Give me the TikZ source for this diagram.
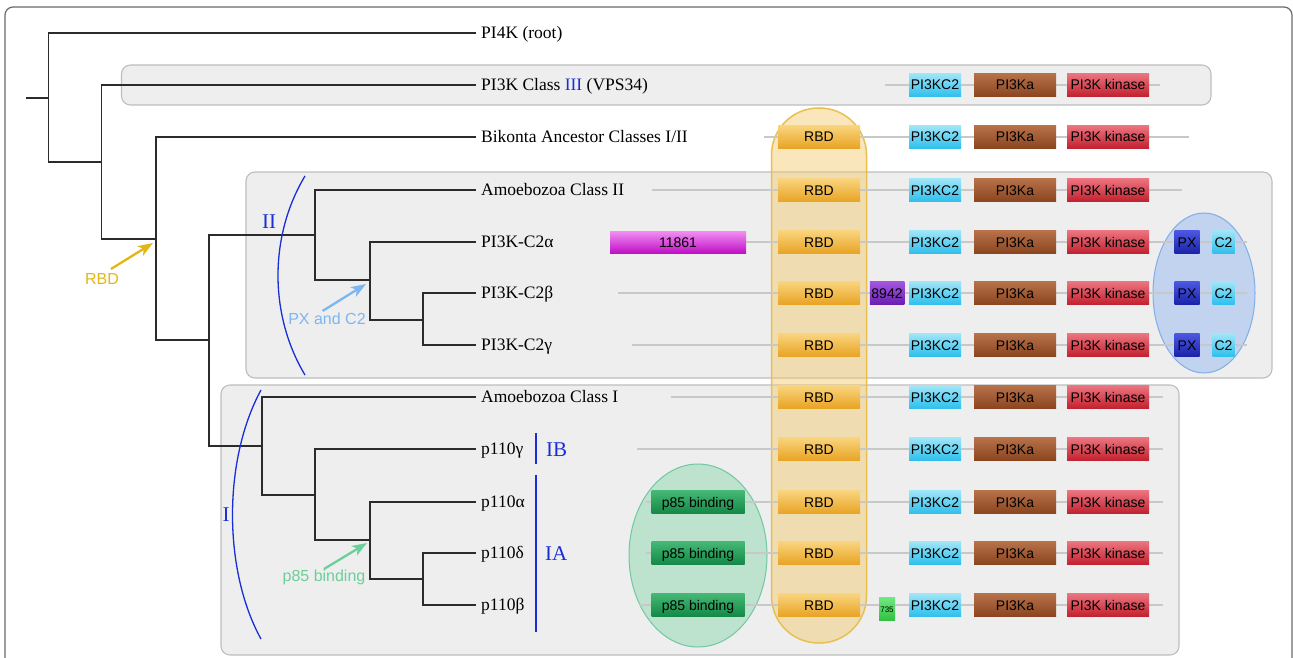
\documentclass[tikz,border=0pt]{standalone}
\usepackage{fontspec}
\setmainfont{Liberation Serif}
\setsansfont{Liberation Sans}
\usetikzlibrary{arrows.meta,shadings}
\definecolor{treeC}{HTML}{2B2B2B}
\definecolor{blueC}{HTML}{1A2ED8}
\definecolor{boxFill}{HTML}{EEEEEE}
\definecolor{boxLine}{HTML}{BEBEBE}
\definecolor{protC}{HTML}{C8C8C8}
\definecolor{frameC}{HTML}{6A6A6A}
\definecolor{cyanT}{HTML}{A0E6F8}\definecolor{cyanB}{HTML}{2EBFEC}
\definecolor{brownT}{HTML}{B8724A}\definecolor{brownB}{HTML}{8A4520}
\definecolor{redT}{HTML}{EC7580}\definecolor{redB}{HTML}{C2202E}
\definecolor{rbdT}{HTML}{F9D47E}\definecolor{rbdB}{HTML}{E8A424}
\definecolor{magT}{HTML}{F290F2}\definecolor{magB}{HTML}{C010C6}
\definecolor{purT}{HTML}{A456E2}\definecolor{purB}{HTML}{6A1EB0}
\definecolor{pxT}{HTML}{4C58E2}\definecolor{pxB}{HTML}{1A22A8}
\definecolor{pgT}{HTML}{44B874}\definecolor{pgB}{HTML}{148846}
\definecolor{gT}{HTML}{70E880}\definecolor{gB}{HTML}{30C040}
\definecolor{goldC}{HTML}{E2B714}
\definecolor{ltblueC}{HTML}{7DB6F0}
\definecolor{ltgreenC}{HTML}{6CCF9A}
\definecolor{capFill}{HTML}{F2C868}
\definecolor{capLine}{HTML}{E8C050}
\definecolor{ellBFill}{HTML}{AAC6EE}
\definecolor{ellBLine}{HTML}{7FAEE8}
\definecolor{ellGFill}{HTML}{A4DCBE}
\definecolor{ellGLine}{HTML}{70C8A0}
\begin{document}
\begin{tikzpicture}[x=1pt,y=-1pt,
  tree/.style={draw=treeC,line width=1.4pt},
  leaflab/.style={anchor=base west,inner sep=0pt,font=\fontsize{17.5}{20}\selectfont},
  graybox/.style={draw=boxLine,fill=boxFill,line width=1.1pt,rounded corners=9pt},
  prot/.style={draw=protC,line width=2pt},
  dom/.style={inner sep=0pt,minimum height=23pt,font=\sffamily\fontsize{14}{16}\selectfont,text height=10pt,text depth=0pt},
  cyanbox/.style={dom,top color=cyanT,bottom color=cyanB},
  brownbox/.style={dom,top color=brownT,bottom color=brownB},
  redbox/.style={dom,top color=redT,bottom color=redB},
  rbdbox/.style={dom,top color=rbdT,bottom color=rbdB},
  magbox/.style={dom,top color=magT,bottom color=magB},
  purbox/.style={dom,top color=purT,bottom color=purB},
  pxbox/.style={dom,top color=pxT,bottom color=pxB},
  p85box/.style={dom,top color=pgT,bottom color=pgB},
  smallgbox/.style={dom,top color=gT,bottom color=gB,font=\sffamily\fontsize{8}{9}\selectfont,text height=6pt},
  classlab/.style={inner sep=0pt,text=blueC,font=\fontsize{21}{24}\selectfont},
  bar/.style={draw=blueC,line width=2.4pt},
  arc/.style={draw=blueC,line width=1.3pt},
  anno/.style={inner sep=0pt,font=\sffamily\fontsize{16}{18}\selectfont},
  annoarrow/.style={line width=2.3pt,-{Stealth[length=15pt,width=11pt,inset=4pt]}}
]
\useasboundingbox (0,0) rectangle (1293,658);
\clip (0,0) rectangle (1293,658);
\fill[white] (0,0) rectangle (1293,658);
% outer frame
\draw[frameC,line width=1.2pt,rounded corners=8pt] (5,7) rectangle (1292,690);
% class boxes
\draw[graybox] (121.5,65) rectangle (1211,105);
\draw[graybox] (246,172) rectangle (1272,378);
\draw[graybox] (221,385) rectangle (1179,655);
% RBD highlight capsule
\draw[draw=capLine,fill=capFill,fill opacity=0.45,line width=1.5pt,rounded corners=47pt] (771.5,108) rectangle (866.5,643);
% PX/C2 and p85 ellipses
\draw[draw=ellBLine,fill=ellBFill,fill opacity=0.65,line width=1pt] (1204,293) ellipse [x radius=51pt,y radius=80pt];
\draw[draw=ellGLine,fill=ellGFill,fill opacity=0.65,line width=1pt] (698,555.5) ellipse [x radius=69pt,y radius=91.5pt];
% leaf coordinates
\foreach \i/\y in {0/33,1/85,2/137,3/190,4/242,5/293,6/345,7/397,8/449,9/502,10/553,11/605}{
  \coordinate (t\i) at (475.5,\y);
}
% internal nodes
\coordinate (Rs) at (26,98);
\coordinate (R) at (48.5,98);
\coordinate (A) at (101.6,162);
\coordinate (B) at (156,239);
\coordinate (C) at (209,340);
\coordinate (D) at (315,235);
\coordinate (E) at (370,280);
\coordinate (F) at (423,320);
\coordinate (G) at (262,446);
\coordinate (H) at (315,495);
\coordinate (J) at (370,540);
\coordinate (K) at (423,579);
% tree
\draw[tree] (Rs) -- (R);
\draw[tree] (t0) -| (R) |- (A);
\draw[tree] (t1) -| (A) |- (B);
\draw[tree] (t2) -| (B) |- (C);
\draw[tree] (D) -| (C) |- (G);
\draw[tree] (t3) -| (D) |- (E);
\draw[tree] (t4) -| (E) |- (F);
\draw[tree] (t5) -| (F) |- (t6);
\draw[tree] (t7) -| (G) |- (H);
\draw[tree] (t8) -| (H) |- (J);
\draw[tree] (t9) -| (J) |- (K);
\draw[tree] (t10) -| (K) |- (t11);
% leaf labels
\node[leaflab] (l0) at (481,38.8) {PI4K (root)};
\node[leaflab] (l1) at (481,90.8) {PI3K Class \textcolor{blueC}{III} (VPS34)};
\node[leaflab] (l2) at (481,142.8) {Bikonta Ancestor Classes I/II};
\node[leaflab] (l3) at (481,195.8) {Amoebozoa Class II};
\node[leaflab] (l4) at (481,247.8) {PI3K-C2α};
\node[leaflab] (l5) at (481,298.8) {PI3K-C2β};
\node[leaflab] (l6) at (481,350.8) {PI3K-C2γ};
\node[leaflab] (l7) at (481,402.8) {Amoebozoa Class I};
\node[leaflab] (l8) at (481,454.8) {p110γ};
\node[leaflab] (l9) at (481,507.8) {p110α};
\node[leaflab] (l10) at (481,558.8) {p110δ};
\node[leaflab] (l11) at (481,610.8) {p110β};
% class arcs and labels
\coordinate (a2t) at (305,176); \coordinate (a2b) at (305,375);
\draw[arc] (a2t) .. controls (269,236) and (269,315) .. (a2b);
\coordinate (a1t) at (261,390); \coordinate (a1b) at (261,639);
\draw[arc] (a1t) .. controls (223,460) and (223,570) .. (a1b);
\node[classlab] (cII) at (269,222) {II};
\node[classlab] (cI) at (226,515) {I};
\coordinate (ib1) at (536,433); \coordinate (ib2) at (536,464);
\coordinate (ia1) at (536,475); \coordinate (ia2) at (536,632);
\draw[bar] (ib1) -- (ib2);
\draw[bar] (ia1) -- (ia2);
\node[classlab,anchor=base west] (cIB) at (546,456.5) {IB};
\node[classlab,anchor=base west] (cIA) at (545,560.5) {IA};
% protein lines
\foreach \r/\y/\a/\b in {1/85/885/1160,2/137/764/1189,3/190/652/1182,4/242/700/1247,5/293/618/1247,6/345/632/1247,7/397/671/1163,8/449/637/1163,9/502/646/1163,10/553/646/1163,11/605/639/1163}{
  \coordinate (ls\r) at (\a,\y);
  \coordinate (le\r) at (\b,\y);
  \draw[prot] (ls\r) -- (le\r);
}
% core domains
\foreach \r/\y in {1/85,2/137,3/190,4/242,5/293,6/345,7/397,8/449,9/502,10/553,11/605}{
  \node[cyanbox,minimum width=52pt] (c\r) at (935,\y) {PI3KC2};
  \node[brownbox,minimum width=82pt] (a\r) at (1015,\y) {PI3Ka};
  \node[redbox,minimum width=82pt] (k\r) at (1108,\y) {PI3K kinase};
}
\foreach \r/\y in {2/137,3/190,4/242,5/293,6/345,7/397,8/449,9/502,10/553,11/605}{
  \node[rbdbox,minimum width=82pt] (rbd\r) at (819,\y) {RBD};
}
\foreach \r/\y in {4/242,5/293,6/345}{
  \node[pxbox,minimum width=25pt] (px\r) at (1187,\y) {PX};
  \node[cyanbox,minimum width=22pt] (cc\r) at (1223.5,\y) {C2};
}
\foreach \r/\y in {9/502,10/553,11/605}{
  \node[p85box,minimum width=93pt] (pb\r) at (698,\y) {p85 binding};
}
\node[magbox,minimum width=136pt,minimum height=22pt] (m4) at (678,242) {11861};
\node[purbox,minimum width=34.5pt] (u5) at (887,293) {8942};
\node[smallgbox,minimum width=16pt] (g11) at (887,609) {735};
% annotations
\node[anno,text=goldC] (rbdlab) at (102,279) {RBD};
\coordinate (rbds) at (111,269); \coordinate (rbde) at (153,243);
\draw[annoarrow,goldC] (rbds) -- (rbde);
\node[anno,text=ltblueC] (pxlab) at (327,319) {PX and C2};
\coordinate (pxs) at (322.5,311); \coordinate (pxe) at (366,284);
\draw[annoarrow,ltblueC] (pxs) -- (pxe);
\node[anno,text=ltgreenC] (p85lab) at (324,577) {p85 binding};
\coordinate (p85s) at (324,569); \coordinate (p85e) at (367,543);
\draw[annoarrow,ltgreenC] (p85s) -- (p85e);
\end{tikzpicture}
\end{document}
